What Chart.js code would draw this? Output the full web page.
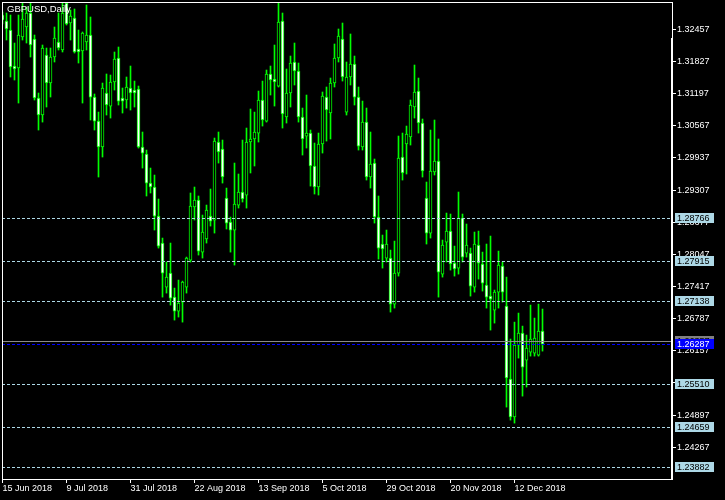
<!DOCTYPE html>
<html><head><meta charset="utf-8">
<script src="https://cdn.jsdelivr.net/npm/chart.js@4.4.0/dist/chart.umd.min.js"></script>
<style>html,body{margin:0;padding:0;background:#000;overflow:hidden;}canvas{display:block;}</style>
</head><body>
<canvas id="c" width="725" height="500"></canvas>
<script>
const symbolTitle = 'GBPUSD,Daily';
const tickLabels = ['15 Jun 2018','9 Jul 2018','31 Jul 2018','22 Aug 2018','13 Sep 2018','5 Oct 2018','29 Oct 2018','20 Nov 2018','12 Dec 2018'];
const barsPerTick = 16;
const priceTicks = [1.32457,1.31827,1.31197,1.30567,1.29937,1.29307,1.28677,1.28047,1.27417,1.26787,1.26157,1.25527,1.24897,1.24267];
const levelLines = [1.28766,1.27915,1.27138,1.25510,1.24659,1.23882];
const bidPrice = 1.26287;
const askPrice = 1.26357;

const open = [1.32737,1.32619,1.32443,1.31737,1.31698,1.32306,1.32502,1.32776,1.32267,1.31110,
1.30777,1.31953,1.31404,1.31914,1.32208,1.32051,1.32972,1.32580,1.32678,1.32071,
1.32031,1.32208,1.32345,1.31129,1.30659,1.30150,1.31208,1.30953,1.31424,1.31894,
1.31110,1.31071,1.31306,1.31267,1.31287,1.30150,1.30013,1.29444,1.29366,1.28797,
1.28268,1.27405,1.27680,1.27209,1.26935,1.27111,1.27405,1.27935,1.28974,1.29111,
1.28091,1.28347,1.28797,1.28719,1.30248,1.30111,1.29151,1.28680,1.28523,1.29013,
1.29268,1.29209,1.30248,1.30307,1.30424,1.31071,1.30659,1.31581,1.31483,1.31345,
1.32619,1.30738,1.31208,1.31816,1.31639,1.30738,1.30365,1.30424,1.29778,1.29366,
1.30209,1.31129,1.30816,1.31404,1.31894,1.32267,1.30835,1.31522,1.31777,1.31129,
1.30150,1.30639,1.29562,1.29836,1.28778,1.28249,1.27974,1.27974,1.27072,1.27680,
1.29954,1.30209,1.30346,1.30934,1.31247,1.30620,1.29151,1.28464,1.29660,1.29875,
1.27660,1.28288,1.28503,1.27876,1.27778,1.28758,1.28072,1.28072,1.27405,1.28229,
1.27857,1.27445,1.27229,1.26955,1.27307,1.27817,1.27033,1.25603,1.24859,1.26269,
1.26504,1.25975,1.26132,1.26112,1.26073,1.26543];
const high = [1.32796,1.32776,1.32737,1.32188,1.32737,1.32972,1.32894,1.32972,1.32345,1.31208,
1.32149,1.32090,1.32090,1.32502,1.32776,1.32982,1.32982,1.32835,1.32855,1.32443,
1.32404,1.32933,1.32698,1.31189,1.30835,1.31404,1.31581,1.31561,1.32012,1.32110,
1.31306,1.31522,1.31737,1.31443,1.31345,1.30444,1.30091,1.29738,1.29601,1.29131,
1.28366,1.27896,1.28268,1.27386,1.27543,1.27523,1.27993,1.29249,1.29366,1.29190,
1.28817,1.29013,1.29327,1.30326,1.30444,1.30287,1.29346,1.28778,1.29836,1.29621,
1.30287,1.30522,1.30895,1.30835,1.31247,1.31443,1.31659,1.31737,1.32149,1.32982,
1.32776,1.31679,1.31933,1.32188,1.31796,1.30914,1.31169,1.30483,1.30228,1.30424,
1.31228,1.31326,1.31502,1.32169,1.32463,1.32580,1.31816,1.32365,1.31933,1.31326,
1.31051,1.30914,1.30444,1.29915,1.29190,1.28425,1.28523,1.28131,1.28307,1.30365,
1.30424,1.30561,1.31071,1.31757,1.31502,1.30699,1.29464,1.30483,1.30679,1.30307,
1.28327,1.28856,1.28837,1.28209,1.29268,1.28837,1.28641,1.28170,1.28484,1.28503,
1.28091,1.28249,1.28405,1.27347,1.28111,1.27896,1.27601,1.26387,1.26719,1.26896,
1.26641,1.26465,1.27053,1.26798,1.27072,1.26975];
const low = [1.32561,1.32247,1.31522,1.31463,1.31012,1.32247,1.32188,1.31914,1.31071,1.30483,
1.30639,1.30934,1.31130,1.31816,1.32051,1.32012,1.32541,1.32247,1.31992,1.31796,
1.31012,1.32051,1.30679,1.30483,1.29562,1.29954,1.30777,1.30718,1.31267,1.30973,
1.30816,1.30914,1.30875,1.30934,1.30130,1.29738,1.29190,1.29249,1.28523,1.28170,
1.27209,1.27288,1.27053,1.26759,1.26818,1.26719,1.27288,1.27896,1.28719,1.28033,
1.27974,1.28268,1.28601,1.28464,1.29836,1.29444,1.28543,1.28091,1.27837,1.28954,
1.29072,1.28954,1.29641,1.29778,1.30248,1.30561,1.30639,1.31169,1.30953,1.31326,
1.30522,1.30620,1.30934,1.31365,1.30639,1.29993,1.30130,1.29385,1.29229,1.29209,
1.30032,1.30267,1.30307,1.31326,1.31816,1.31443,1.30777,1.31365,1.30973,1.30091,
1.30091,1.29503,1.29346,1.28660,1.27954,1.27778,1.27896,1.26916,1.26994,1.27621,
1.29503,1.29621,1.30189,1.30718,1.30424,1.29562,1.28249,1.28366,1.29601,1.27209,
1.27601,1.27896,1.27739,1.27621,1.27660,1.27896,1.27993,1.27229,1.27307,1.27562,
1.27327,1.26994,1.26563,1.26700,1.26994,1.27111,1.25054,1.24799,1.24740,1.26014,
1.25269,1.25446,1.26053,1.26053,1.26053,1.26151];
const close = [1.32639,1.32463,1.31718,1.31679,1.32345,1.32659,1.32776,1.32149,1.31110,1.30777,
1.32090,1.31404,1.31914,1.32286,1.32090,1.32776,1.32561,1.32717,1.32012,1.32012,
1.32384,1.32345,1.31129,1.30659,1.30150,1.31306,1.30973,1.31424,1.31875,1.31051,
1.31051,1.31326,1.31208,1.31208,1.30150,1.30032,1.29444,1.29366,1.28797,1.28209,
1.27680,1.27601,1.27190,1.26935,1.27092,1.27503,1.27974,1.28993,1.29111,1.28111,
1.28484,1.28915,1.28699,1.30267,1.30052,1.29562,1.28660,1.28523,1.29033,1.29268,
1.29131,1.30248,1.30307,1.30444,1.31071,1.30679,1.31581,1.31463,1.31424,1.32600,
1.30797,1.31208,1.31796,1.31639,1.30738,1.30307,1.30424,1.29778,1.29366,1.30209,
1.31149,1.30875,1.31404,1.31894,1.32325,1.31522,1.31522,1.31777,1.31129,1.30169,
1.30639,1.29562,1.29817,1.28778,1.28170,1.28151,1.28249,1.27072,1.27680,1.29935,
1.29641,1.30404,1.30973,1.31228,1.30620,1.29680,1.28464,1.29680,1.29875,1.27699,
1.28229,1.28503,1.27857,1.27759,1.28758,1.27993,1.28229,1.27425,1.28249,1.27876,
1.27483,1.27209,1.27170,1.27307,1.27837,1.27307,1.25623,1.24859,1.26269,1.26504,
1.25838,1.26210,1.26387,1.26406,1.26543,1.26287];

const GREEN = '#00ff00';
const FONT = '"Liberation Sans", Arial, sans-serif';

const bodies = open.map((o, i) => ({x: i, y: [o, close[i]]}));
const wicks = low.map((l, i) => ({x: i, y: [l, high[i]]}));
const bodyFill = open.map((o, i) => close[i] >= o ? '#000000' : '#ffffff');

const mt4Plugin = {
  id: 'mt4',
  beforeDraw(chart) {
    const ctx = chart.ctx;
    ctx.save(); ctx.fillStyle = '#000'; ctx.fillRect(0, 0, chart.width, chart.height); ctx.restore();
  },
  afterDatasetsDraw(chart) {
    const {ctx, chartArea: a, scales: {y}} = chart;
    ctx.save();
    ctx.beginPath(); ctx.rect(a.left, a.top, a.right - a.left, a.bottom - a.top); ctx.clip();
    ctx.lineWidth = 1;
    ctx.setLineDash([3, 2]);
    ctx.strokeStyle = '#add8e6';
    levelLines.forEach(v => {
      const py = Math.round(y.getPixelForValue(v)) + 0.5;
      ctx.beginPath(); ctx.moveTo(a.left, py); ctx.lineTo(a.right, py); ctx.stroke();
    });
    ctx.setLineDash([]);
    ctx.strokeStyle = '#8c8c8c';
    let py = Math.round(y.getPixelForValue(askPrice)) + 0.5;
    ctx.beginPath(); ctx.moveTo(a.left, py); ctx.lineTo(a.right, py); ctx.stroke();
    ctx.setLineDash([3, 2]);
    ctx.strokeStyle = '#0000ff';
    py = Math.round(y.getPixelForValue(bidPrice)) + 0.5;
    ctx.beginPath(); ctx.moveTo(a.left, py); ctx.lineTo(a.right, py); ctx.stroke();
    ctx.restore();
  },
  afterDraw(chart) {
    const {ctx, chartArea: a, scales: {y}} = chart;
    ctx.save();
    ctx.fillStyle = '#ffffff';
    ctx.fillRect(2, 2, a.right - 2, 1);
    ctx.fillRect(2, 2, 1, a.bottom - 1);
    ctx.fillRect(2, a.bottom, a.right - 2, 1);
    ctx.fillRect(a.right, 2, 1, 36);
    ctx.fillRect(a.right - 1, 38, 2, a.bottom - 37);
    ctx.font = '9.5px ' + FONT;
    ctx.textBaseline = 'middle';
    ctx.textAlign = 'left';
    ctx.fillText(symbolTitle, 7, 9);
    ctx.font = '9px ' + FONT;
    const box = (v, fill, color) => {
      const py = Math.round(y.getPixelForValue(v));
      ctx.fillStyle = fill;
      ctx.fillRect(a.right + 3, py - 5, 39, 10);
      ctx.fillStyle = color;
      ctx.fillText(v.toFixed(5), a.right + 5, py + 0.5);
    };
    levelLines.forEach(v => box(v, '#add8e6', '#000000'));
    box(askPrice, '#808080', '#000000');
    box(bidPrice, '#0000ff', '#ffffff');
    ctx.restore();
  }
};

new Chart(document.getElementById('c'), {
  type: 'bar',
  data: {
    datasets: [
      {label: 'body', data: bodies, backgroundColor: bodyFill, borderColor: GREEN, borderWidth: 1,
       borderSkipped: false, barThickness: 3, grouped: false, order: 0, minBarLength: 1},
      {label: 'wick', data: wicks, backgroundColor: GREEN, borderWidth: 0,
       barThickness: 1, grouped: false, order: 1}
    ]
  },
  options: {
    responsive: false,
    animation: false,
    devicePixelRatio: 1,
    layout: {padding: {left: 2, top: 2, right: 0, bottom: 0}},
    plugins: {legend: {display: false}, tooltip: {enabled: false}, title: {display: false}},
    scales: {
      x: {
        type: 'linear', position: 'bottom', offset: false,
        min: -0.125, max: 167.375,
        afterBuildTicks: s => { s.ticks = tickLabels.map((t, k) => ({value: k * barsPerTick})); },
        afterFit: s => { s.height = 21; s.paddingLeft = 0; s.paddingRight = 0; },
        grid: {drawOnChartArea: false, drawTicks: true, tickLength: 4, color: '#ffffff', offset: false},
        border: {display: false},
        ticks: {color: '#ffffff', font: {family: FONT, size: 9}, align: 'start', padding: 0,
                maxRotation: 0, autoSkip: false,
                callback: v => tickLabels[Math.round(v / barsPerTick)] || ''}
      },
      y: {
        type: 'linear', position: 'right',
        min: 1.236446, max: 1.32992,
        afterBuildTicks: s => { s.ticks = priceTicks.map(v => ({value: v})); },
        afterFit: s => { s.width = 53; s.paddingTop = 0; s.paddingBottom = 0; },
        grid: {drawOnChartArea: false, drawTicks: true, tickLength: 4, color: '#ffffff'},
        border: {display: false},
        ticks: {color: '#ffffff', font: {family: FONT, size: 9}, padding: 1, autoSkip: false,
                callback: v => v.toFixed(5)}
      }
    }
  },
  plugins: [mt4Plugin]
});
</script>
</body></html>
